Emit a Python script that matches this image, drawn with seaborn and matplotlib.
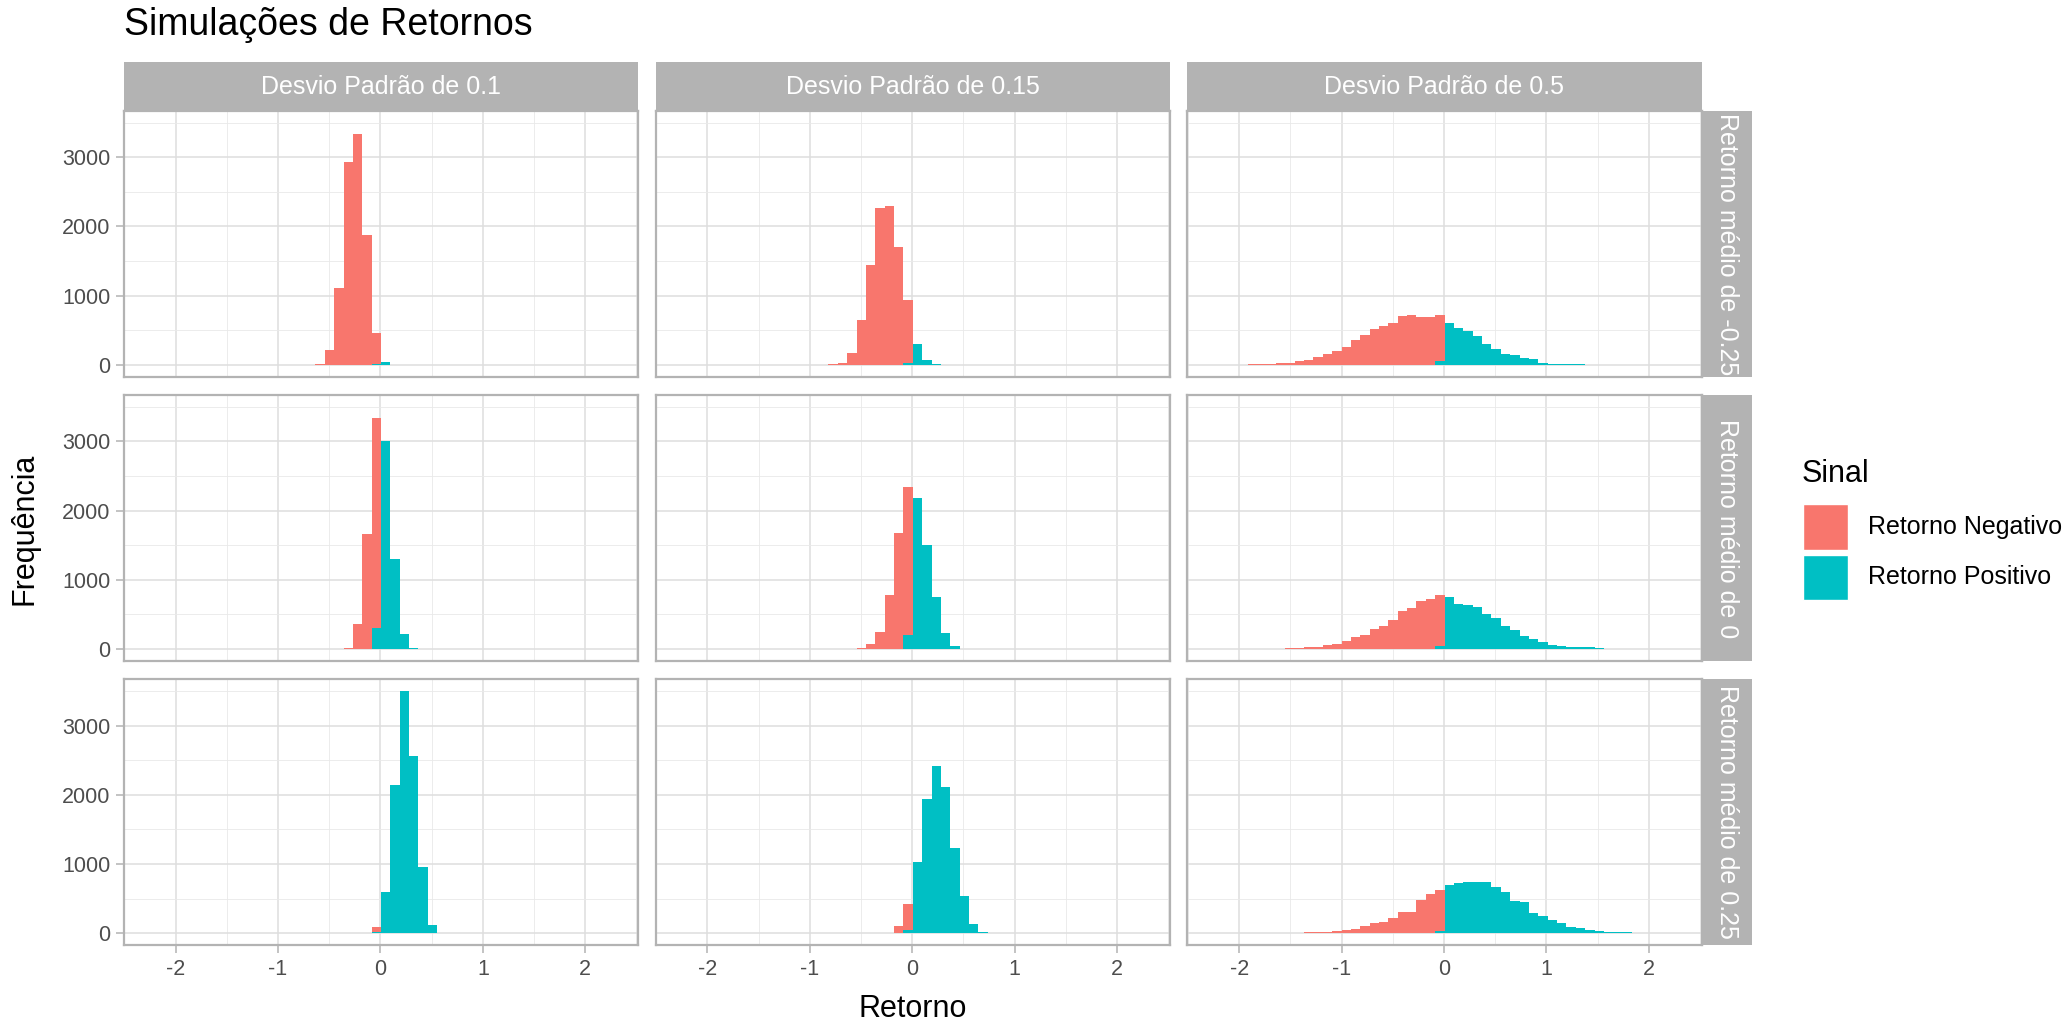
import numpy as np
import pandas as pd
import matplotlib
matplotlib.use('Agg')
import matplotlib.pyplot as plt
from matplotlib.patches import Rectangle
import seaborn as sns

# bins of the histogram
BIN_WIDTH = 0.0915
BIN_ORIGIN = 0.006  # left edge of the first bin with only positive returns

col_labels = ['Desvio Padrão de 0.1', 'Desvio Padrão de 0.15', 'Desvio Padrão de 0.5']
row_labels = ['Retorno médio de -0.25', 'Retorno médio de 0', 'Retorno médio de 0.25']
sinais = ['Retorno Negativo', 'Retorno Positivo']
cores = ['#F8766D', '#00BFC4']

x_ticks = [-2, -1, 0, 1, 2]
x_tick_labels = ['-2', '-1', '0', '1', '2']
y_ticks = [0, 1000, 2000, 3000]
y_tick_labels = ['0', '1000', '2000', '3000']

# counts per bin: negative lists end at the bin that holds zero,
# positive lists start at that same bin
# retorno medio -0.25
neg_n25_d10 = [20, 210, 1105, 2928, 3335, 1876, 449]
pos_n25_d10 = [10, 35]
neg_n25_d15 = [8, 33, 177, 651, 1450, 2268, 2301, 1703, 900]
pos_n25_d15 = [33, 306, 67, 8]
neg_n25_d50 = [12, 12, 12, 30, 30, 53, 67, 110, 158, 205, 263, 363, 435, 512, 560,
               610, 700, 718, 685, 685, 665]
pos_n25_d50 = [53, 610, 535, 488, 420, 301, 225, 163, 148, 96, 81, 29, 12, 12, 12, 12]
# retorno medio 0
neg_00_d10 = [14, 359, 1667, 3033]
pos_00_d10 = [302, 3000, 1303, 220, 14]
neg_00_d15 = [10, 77, 249, 785, 1680, 2134]
pos_00_d15 = [206, 2180, 1505, 756, 235, 48]
neg_00_d50 = [14, 14, 25, 25, 55, 75, 122, 180, 200, 297, 340, 420, 546, 594, 690, 720, 735]
pos_00_d50 = [48, 750, 652, 638, 610, 500, 450, 340, 272, 195, 148, 104, 55, 40, 25, 25, 25, 14]
# retorno medio 0.25
neg_p25_d10 = [72]
pos_p25_d10 = [19, 602, 2145, 3493, 2566, 951, 119, 8]
neg_p25_d15 = [8, 105, 368]
pos_p25_d15 = [53, 1033, 1943, 2411, 2115, 1234, 545, 134, 24, 8]
neg_p25_d50 = [14, 14, 14, 30, 50, 64, 103, 146, 160, 222, 312, 312, 484, 566, 590]
pos_p25_d50 = [38, 705, 720, 738, 738, 738, 662, 600, 470, 456, 300, 256, 190, 146, 98,
               74, 45, 30, 14, 14, 14]

negs = [[neg_n25_d10, neg_n25_d15, neg_n25_d50],
        [neg_00_d10, neg_00_d15, neg_00_d50],
        [neg_p25_d10, neg_p25_d15, neg_p25_d50]]
poss = [[pos_n25_d10, pos_n25_d15, pos_n25_d50],
        [pos_00_d10, pos_00_d15, pos_00_d50],
        [pos_p25_d10, pos_p25_d15, pos_p25_d50]]


def panel_df(neg, pos):
    k = np.concatenate([np.arange(-len(neg), 0), np.arange(-1, len(pos) - 1)])
    return pd.DataFrame({
        'Retorno': BIN_ORIGIN + (k + 0.5) * BIN_WIDTH,
        'Frequência': neg + pos,
        'Sinal': [sinais[0]] * len(neg) + [sinais[1]] * len(pos),
    })


dfs = [[panel_df(negs[r][c], poss[r][c]) for c in range(3)] for r in range(3)]
edges = (BIN_ORIGIN + BIN_WIDTH * np.arange(-22, 21)).tolist()
ymax = max(d.groupby('Retorno')['Frequência'].sum().max() for row in dfs for d in row)

sns.set_style('white')
plt.rcParams['font.family'] = ['Liberation Sans', 'DejaVu Sans']
plt.rcParams['text.color'] = 'black'

W, H = 2064, 1023
fig = plt.figure(figsize=(W / 100, H / 100), dpi=100)


def box(x0, y0, w, h):
    return [x0 / W, 1 - (y0 + h) / H, w / W, h / H]


left0, pw, hgap = 123.8, 514.2, 17.6
top0, ph, vgap = 111, 266, 18.2
strip = 49

for r in range(3):
    for c in range(3):
        x0 = left0 + c * (pw + hgap)
        y0 = top0 + r * (ph + vgap)
        ax = fig.add_axes(box(x0, y0, pw, ph))
        sns.histplot(data=dfs[r][c], x='Retorno', weights='Frequência', hue='Sinal',
                     hue_order=sinais, palette=cores, bins=edges, multiple='stack',
                     alpha=1, linewidth=0, legend=False, ax=ax)
        ax.set_xlim(-2.505, 2.515)
        ax.set_ylim(-0.05 * ymax, 1.05 * ymax)
        ax.set_xticks(x_ticks)
        ax.set_xticklabels(x_tick_labels)
        ax.set_yticks(y_ticks)
        ax.set_yticklabels(y_tick_labels)
        ax.set_xticks([-2.5, -1.5, -0.5, 0.5, 1.5, 2.5], minor=True)
        ax.set_yticks([500, 1500, 2500, 3500], minor=True)
        ax.set_axisbelow(True)
        ax.grid(which='major', color='#DEDEDE', linewidth=1.1)
        ax.grid(which='minor', color='#E9E9E9', linewidth=0.6)
        ax.tick_params(which='minor', length=0)
        ax.tick_params(which='major', length=5.5, width=1.1, color='#B3B3B3',
                       labelcolor='#4D4D4D', labelsize=15.5, pad=4.3,
                       left=(c == 0), labelleft=(c == 0),
                       bottom=(r == 2), labelbottom=(r == 2))
        for s in ax.spines.values():
            s.set_color('#B3B3B3')
            s.set_linewidth(1.6)
        ax.set_xlabel('')
        ax.set_ylabel('')

        # column strips on top
        if r == 0:
            sax = fig.add_axes(box(x0, y0 - strip, pw, strip))
            sax.set_facecolor('#B3B3B3')
            sax.set_xticks([])
            sax.set_yticks([])
            for s in sax.spines.values():
                s.set_visible(False)
            sax.text(0.5, 0.5, col_labels[c], transform=sax.transAxes, ha='center',
                     va='center', color='white', fontsize=18)
        # row strips on the right
        if c == 2:
            sax = fig.add_axes(box(x0 + pw, y0, 50, ph))
            sax.set_facecolor('#B3B3B3')
            sax.set_xticks([])
            sax.set_yticks([])
            for s in sax.spines.values():
                s.set_visible(False)
            sax.text(0.5, 0.5, row_labels[r], transform=sax.transAxes, ha='center',
                     va='center', rotation=-90, color='white', fontsize=18, clip_on=True)

# titles
fig.text(124 / W, 1 - 35 / H, 'Simulações de Retornos', fontsize=27, ha='left', va='baseline')
fig.text(913 / W, 1 - 1017 / H, 'Retorno', fontsize=22, ha='center', va='baseline')
fig.text(25 / W, 1 - 528.5 / H, 'Frequência', fontsize=22, rotation=90, ha='center', va='center')

# legend
fig.text(1801.7 / W, 1 - 481.7 / H, 'Sinal', fontsize=22, ha='left', va='baseline')
for i, (lab, cor) in enumerate(zip(sinais, cores)):
    ytop = 504.3 + i * 50.4
    fig.add_artist(Rectangle((1802.7 / W, 1 - (ytop + 45.7) / H), 45.6 / W, 45.7 / H,
                             transform=fig.transFigure, facecolor=cor, edgecolor='white',
                             linewidth=1))
    fig.text(1868 / W, 1 - (ytop + 22.8) / H, lab, fontsize=18, ha='left', va='center')

fig.savefig('out.png', dpi=100)
